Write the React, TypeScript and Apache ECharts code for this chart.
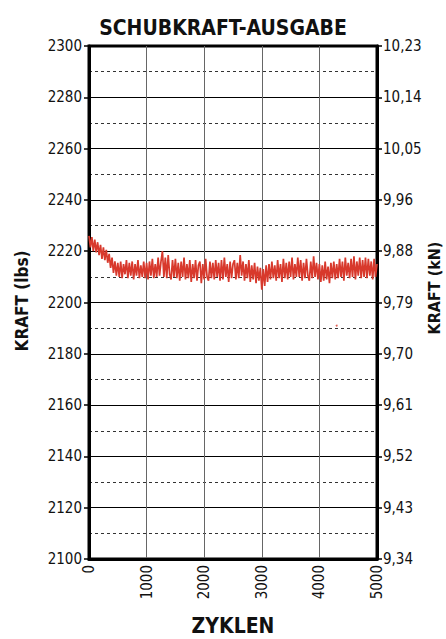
import React, { useEffect, useRef } from "react";
import * as echarts from "echarts";

const TITLE = "SCHUBKRAFT-AUSGABE";
const X_NAME = "ZYKLEN";
const Y_LEFT_NAME = "KRAFT (lbs)";
const Y_RIGHT_NAME = "KRAFT (kN)";

const KN_LABELS = ["9,34", "9,43", "9,52", "9,61", "9,70", "9,79", "9,88", "9,96", "10,05", "10,14", "10,23"];

const CYCLE_STEP = 25;
const FORCE_LBS = [
  2226.0, 2221.5, 2225.5, 2220.0, 2224.5, 2219.5, 2223.5, 2218.5, 2222.5, 2217.0,
  2221.5, 2216.5, 2220.5, 2215.5, 2219.0, 2213.5, 2217.5, 2211.5, 2216.0, 2210.5,
  2215.5, 2210.0, 2216.0, 2209.5, 2215.0, 2211.0, 2216.5, 2209.5, 2215.5, 2210.5,
  2216.0, 2209.0, 2215.0, 2210.5, 2216.5, 2209.5, 2214.5, 2210.0, 2216.0, 2209.5,
  2215.5, 2209.0, 2216.0, 2210.5, 2217.0, 2209.5, 2215.0, 2210.0, 2217.5, 2210.5,
  2216.0, 2220.0, 2210.0, 2217.5, 2209.5, 2218.5, 2211.0, 2209.0, 2216.5, 2210.0,
  2217.0, 2209.5, 2215.5, 2208.5, 2216.0, 2210.0, 2217.5, 2209.0, 2215.0, 2209.5,
  2216.5, 2208.0, 2215.0, 2209.5, 2216.5, 2208.5, 2214.5, 2216.0, 2207.5, 2215.0,
  2209.0, 2217.0, 2210.0, 2208.5, 2216.0, 2209.5, 2215.5, 2209.0, 2216.5, 2210.0,
  2215.5, 2208.5, 2216.5, 2209.0, 2217.5, 2210.0, 2215.0, 2208.0, 2216.0, 2209.5,
  2215.0, 2216.5, 2209.0, 2215.5, 2209.5, 2218.5, 2210.5, 2216.0, 2208.5, 2215.0,
  2209.5, 2216.5, 2208.0, 2214.5, 2209.0, 2215.5, 2207.5, 2214.0, 2208.5, 2213.5,
  2205.0, 2213.0, 2206.5, 2214.5, 2208.0, 2215.0, 2209.0, 2216.0, 2209.5, 2214.5,
  2208.5, 2216.5, 2209.5, 2215.0, 2208.0, 2217.0, 2209.5, 2215.5, 2209.0, 2216.0,
  2210.0, 2217.5, 2209.0, 2215.0, 2210.0, 2217.5, 2210.0, 2216.5, 2208.5, 2215.5,
  2209.5, 2217.0, 2210.5, 2208.5, 2216.0, 2209.5, 2218.0, 2210.0, 2215.5, 2209.0,
  2215.0, 2208.0, 2214.5, 2208.5, 2216.0, 2209.0, 2214.0, 2207.5, 2215.5, 2209.5,
  2216.0, 2209.0, 2215.0, 2209.5, 2217.0, 2210.0, 2216.0, 2208.5, 2217.5, 2210.5,
  2215.5, 2209.5, 2217.0, 2210.0, 2218.0, 2209.0, 2216.0, 2210.5, 2217.5, 2209.5,
  2216.5, 2210.0, 2217.5, 2209.5, 2217.0, 2210.5, 2216.0, 2209.0, 2217.0, 2210.0,
  2215.0,
];

const OUTLIER_CYCLES = [4300];
const OUTLIER_LBS = [2191];

const FONT = "'DejaVu Sans Condensed', 'DejaVu Sans', sans-serif";

export default function App() {
  const ref = useRef<HTMLDivElement>(null);
  useEffect(() => {
    if (!ref.current) return;
    const chart = echarts.init(ref.current, undefined, { renderer: "svg" });
    const data = FORCE_LBS.map((v, i) => [i * CYCLE_STEP, v]);
    const outliers = OUTLIER_CYCLES.map((c, i) => [c, OUTLIER_LBS[i]]);
    chart.setOption({
      animation: false,
      backgroundColor: "#fff",
      title: {
        text: TITLE,
        left: "center",
        top: 12,
        textStyle: { fontFamily: FONT, fontSize: 21, fontWeight: "bold", color: "#111" },
      },
      grid: {
        left: 89,
        right: 69,
        top: 46,
        bottom: 80,
        show: true,
        borderColor: "#000",
        borderWidth: 3,
        containLabel: false,
        outerBoundsMode: "none",
      },
      graphic: [
        {
          type: "text",
          x: 22,
          y: 301,
          rotation: Math.PI / 2,
          style: {
            text: Y_LEFT_NAME,
            font: `bold 17px ${FONT}`,
            fill: "#111",
            align: "center",
            verticalAlign: "middle",
          },
        },
        {
          type: "text",
          x: 434,
          y: 288,
          rotation: Math.PI / 2,
          style: {
            text: Y_RIGHT_NAME,
            font: `bold 16px ${FONT}`,
            fill: "#111",
            align: "center",
            verticalAlign: "middle",
          },
        },
      ],
      xAxis: {
        type: "value",
        min: 0,
        max: 5000,
        interval: 1000,
        name: X_NAME,
        nameLocation: "middle",
        nameGap: 56,
        nameTextStyle: { fontFamily: FONT, fontSize: 21, fontWeight: "bold", color: "#111" },
        axisLine: { show: true, lineStyle: { color: "#000", width: 3 } },
        axisTick: { show: false },
        axisLabel: {
          rotate: 90,
          margin: 6,
          fontFamily: FONT,
          fontSize: 15,
          color: "#111",
          formatter: (v: number) => String(v),
        },
        splitLine: { show: true, lineStyle: { color: "#666", width: 1 } },
      },
      yAxis: [
        {
          type: "value",
          min: 2100,
          max: 2300,
          interval: 20,
          axisLine: { show: true, lineStyle: { color: "#000", width: 3 } },
          axisTick: { show: true, length: 5, lineStyle: { color: "#000", width: 1.5 } },
          axisLabel: {
            margin: 7,
            fontFamily: FONT,
            fontSize: 15,
            color: "#111",
            formatter: (v: number) => String(v),
          },
          splitLine: { show: true, lineStyle: { color: "#000", width: 1 } },
          minorTick: { show: false, splitNumber: 2 },
          minorSplitLine: { show: true, lineStyle: { color: "#333", width: 1, type: [3, 3] } },
        },
        {
          type: "value",
          min: 2100,
          max: 2300,
          interval: 20,
          position: "right",
          axisLine: { show: true, lineStyle: { color: "#000", width: 3 } },
          axisTick: { show: true, length: 5, lineStyle: { color: "#000", width: 1.5 } },
          axisLabel: {
            margin: 6,
            fontFamily: FONT,
            fontSize: 15,
            color: "#111",
            formatter: (_v: number, idx: number) => KN_LABELS[idx] ?? "",
          },
          splitLine: { show: false },
        },
      ],
      series: [
        {
          type: "line",
          data,
          yAxisIndex: 0,
          showSymbol: false,
          symbol: "none",
          lineStyle: { color: "#d8392c", width: 1.7 },
          z: 5,
        },
        {
          type: "scatter",
          data: outliers,
          yAxisIndex: 0,
          symbolSize: 2,
          itemStyle: { color: "#d8392c" },
          z: 5,
        },
      ],
    });
    return () => chart.dispose();
  }, []);
  return <div ref={ref} style={{ width: 446, height: 639, position: "absolute", left: 0, top: 0 }} />;
}
